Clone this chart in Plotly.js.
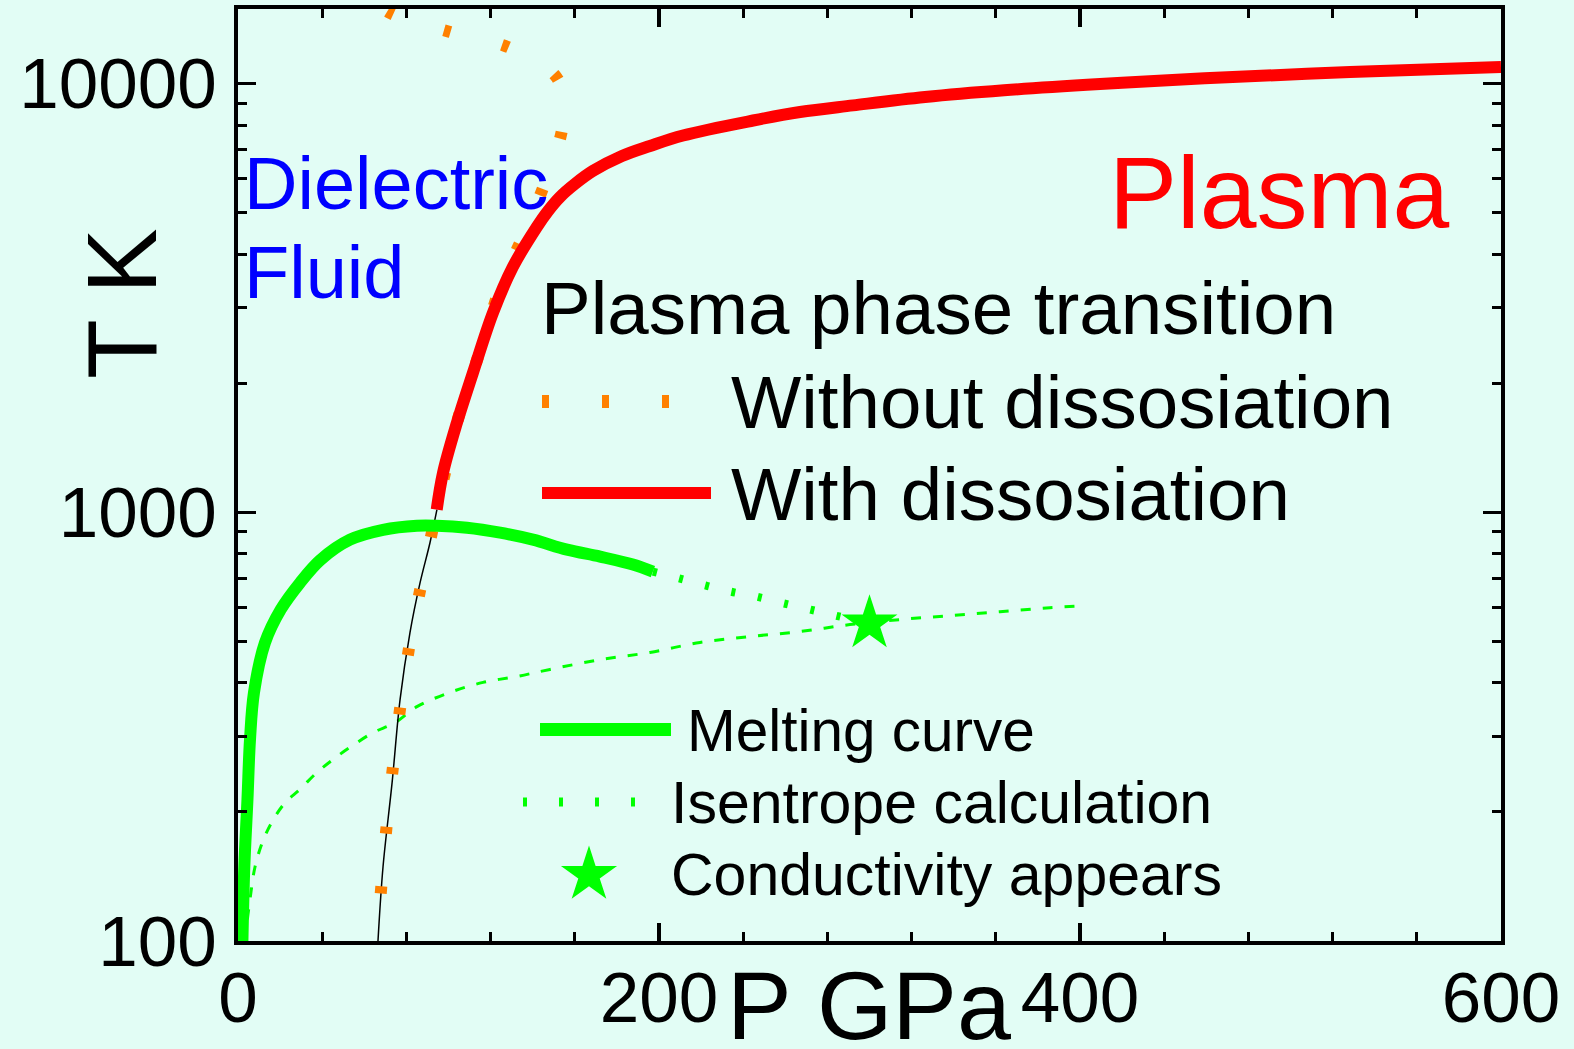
<!DOCTYPE html>
<html>
<head>
<meta charset="utf-8">
<script src="https://cdn.plot.ly/plotly-3.0.1.min.js"></script>
<style>
  html, body { margin: 0; padding: 0; background: #E2FDF5; }
  #chart { width: 1574px; height: 1049px; }
</style>
</head>
<body>
<div id="chart"></div>
<script>
// ---- Data: pressure P (GPa) vs temperature T (K) ----

// Melting curve (solid green)
const meltP = [2.1, 3.0, 4.5, 5.7, 7.6, 12.8, 20.3, 29.5, 39.0, 53.2, 68.9, 85.0, 94.5, 108.8, 124.5, 140.1, 156.3, 172.0, 187.6, 197.1];
const meltT = [100, 149, 214, 295, 380, 496, 593, 685, 773, 863, 910, 930, 930, 920, 896, 863, 818, 788, 755, 727];

// Isentrope calculation (dotted green), continuing the melting curve
const isenP = [197.1, 210, 222, 234, 246, 258, 270, 282, 300];
const isenT = [727, 700, 675, 653, 636, 615, 596, 577, 550];

// Point where conductivity appears
const condP = [300];
const condT = [550];

// Thin dashed green curve
const dashP = [3.8, 4.1, 5.7, 8.1, 12.0, 16.8, 22.3, 29.5, 37.4, 45.1, 53.2, 64.1, 74.6, 85.0, 100.7, 116.4, 132.5, 148.2, 172.0, 195.7, 219.5, 243.2, 267.0, 290.7, 314.5, 338.2, 362.0, 385.7, 401.0];
const dashT = [100, 108, 125, 149, 172, 192, 210, 226, 247, 265, 283, 306, 323, 352, 380, 401, 414, 430, 453, 471, 497, 513, 527, 547, 562, 574, 586, 599, 605];

// Thin black curve below the transition
const blackP = [66.5, 68.9, 73.2, 77.0, 81.7, 86.5, 91.2, 94.5];
const blackT = [100, 149, 234, 366, 524, 685, 849, 1014];

// Plasma phase transition without dissociation (orange dotted)
const noDissP = [67.8, 70.3, 73.3, 78.2, 82.5, 87.7, 91.2, 94.5, 104, 111.6, 120.5, 125.4, 136.3, 145.8, 153.9, 154.2, 151.5, 129.2, 100.7, 72.2, 62];
const noDissT = [129, 179, 247, 385, 523, 703, 855, 1014, 1618, 2113, 2917, 3428, 4508, 5866, 7793, 8913, 10310, 12106, 13195, 14611, 16000];

// Plasma phase transition with dissociation (red)
const dissP = [94.4, 97.4, 104.0, 111.6, 121.1, 130.6, 142.0, 147.3, 153.0, 160.1, 168.6, 182.4, 195.7, 211.4, 244.7, 267.0, 292.2, 326.4, 363.9, 409.5, 459.2, 528.3, 600];
const dissT = [1014, 1236, 1617, 2114, 2917, 3736, 4630, 5044, 5438, 5832, 6252, 6776, 7151, 7565, 8199, 8582, 8892, 9301, 9643, 9972, 10283, 10636, 10926];

// Axis ticks
const xTicks = [0, 200, 400, 600];
const yTicks = [100, 1000, 10000];
const yTickText = ['100', '1000', '10000'];
const yMinor = [200, 300, 400, 500, 600, 700, 800, 900, 2000, 3000, 4000, 5000, 6000, 7000, 8000, 9000];

// ---- Styling ----
const FONT = 'Liberation Sans, Arial, sans-serif';
const BG = '#E2FDF5';
const GREEN = '#00FF00', RED = '#FF0000', ORANGE = '#FF8000', BLUE = '#0000FF';

const W = 1574, H = 1049;
const L = 238, R = 1501, T = 9, B = 941;
const px = x => (x - L) / (R - L);
const py = y => (B - y) / (B - T);

const traces = [
  { x: dashP, y: dashT, mode: 'lines', name: 'dashed',
    line: { color: GREEN, width: 3, dash: '10px,12px', shape: 'spline' } },
  { x: blackP, y: blackT, mode: 'lines', name: 'black',
    line: { color: '#000000', width: 1.5, shape: 'spline' } },
  { x: noDissP, y: noDissT, mode: 'lines', name: 'Without dissosiation',
    line: { color: ORANGE, width: 12, dash: '7px,53px', shape: 'spline' } },
  { x: meltP, y: meltT, mode: 'lines', name: 'Melting curve',
    line: { color: GREEN, width: 12, shape: 'spline' } },
  { x: isenP, y: isenT, mode: 'lines', name: 'Isentrope calculation',
    line: { color: GREEN, width: 8, dash: '4px,23px', shape: 'spline' } },
  { x: dissP, y: dissT, mode: 'lines', name: 'With dissosiation',
    line: { color: RED, width: 12, shape: 'spline' } },
  { x: condP, y: condT, mode: 'markers', name: 'Conductivity appears',
    marker: { symbol: 'star', size: 42, color: GREEN, line: { width: 0 } } }
];

function label(text, x, y, size, color, extra) {
  return Object.assign({
    text: text, xref: 'paper', yref: 'paper', x: px(x), y: py(y),
    xanchor: 'left', yanchor: 'middle', showarrow: false, borderpad: 0,
    font: { family: FONT, size: size, color: color }
  }, extra || {});
}

// Five-pointed star for the legend, in pixels around its anchor
function starPath(ro) {
  const ri = ro * 0.382;
  let d = '';
  for (let k = 0; k < 10; k++) {
    const a = Math.PI / 2 + k * Math.PI / 5;
    const r = k % 2 === 0 ? ro : ri;
    d += (k === 0 ? 'M' : 'L') + (r * Math.cos(a)).toFixed(2) + ',' + (r * Math.sin(a)).toFixed(2);
  }
  return d + 'Z';
}

const annotations = [
  label('Dielectric', 243, 184, 74, BLUE),
  label('Fluid', 243, 273, 74, BLUE),
  label('Plasma', 1108, 193, 102, RED),
  label('Plasma phase transition', 540, 309, 74.5, '#000'),
  label('Without dissosiation', 730, 402, 74.5, '#000'),
  label('With dissosiation', 730, 494, 74.5, '#000'),
  label('Melting curve', 686, 730, 58.5, '#000'),
  label('Isentrope calculation', 670, 803, 59, '#000'),
  label('Conductivity appears', 670, 875, 59, '#000'),
  label('P GPa', 869, 1005, 97, '#000', { xanchor: 'center' }),
  label('T K', 121.5, 303.6, 98, '#000', { xanchor: 'center', textangle: -90 })
];

const shapes = [
  { type: 'line', xref: 'paper', yref: 'paper', x0: px(542), x1: px(672), y0: py(401.5), y1: py(401.5),
    line: { color: ORANGE, width: 13, dash: '7px,53px' } },
  { type: 'line', xref: 'paper', yref: 'paper', x0: px(542), x1: px(711), y0: py(493), y1: py(493),
    line: { color: RED, width: 12 } },
  { type: 'line', xref: 'paper', yref: 'paper', x0: px(540), x1: px(671), y0: py(729.5), y1: py(729.5),
    line: { color: GREEN, width: 13 } },
  { type: 'line', xref: 'paper', yref: 'paper', x0: px(523), x1: px(640), y0: py(802), y1: py(802),
    line: { color: GREEN, width: 9, dash: '4px,32px' } },
  { type: 'path', xref: 'paper', yref: 'paper', xsizemode: 'pixel', ysizemode: 'pixel',
    xanchor: px(589), yanchor: py(875), path: starPath(29.5),
    fillcolor: GREEN, line: { width: 0 } }
];

const axisCommon = {
  showline: true, linecolor: '#000', linewidth: 4, mirror: 'allticks',
  ticks: 'inside', ticklen: 18, tickwidth: 3.5, tickcolor: '#000',
  showgrid: false, zeroline: false, automargin: false,
  tickfont: { family: FONT, size: 71, color: '#000' }
};

const layout = {
  width: W, height: H,
  margin: { l: L, r: W - R, t: T, b: H - B, pad: 0 },
  paper_bgcolor: BG, plot_bgcolor: BG,
  showlegend: false,
  font: { family: FONT, color: '#000' },
  xaxis: Object.assign({}, axisCommon, {
    range: [0, 600], tickmode: 'array', tickvals: xTicks,
    ticklabelstandoff: -8,
    minor: { dtick: 40, tick0: 0, ticks: 'inside', ticklen: 9, tickwidth: 3, tickcolor: '#000', showgrid: false }
  }),
  yaxis: Object.assign({}, axisCommon, {
    type: 'log', range: [2, 4.1738], tickmode: 'array', tickvals: yTicks, ticktext: yTickText,
    ticklabelstandoff: 3,
    minor: { tickmode: 'array', tickvals: yMinor, ticks: 'inside', ticklen: 9, tickwidth: 3, tickcolor: '#000', showgrid: false }
  }),
  annotations: annotations,
  shapes: shapes
};

Plotly.newPlot('chart', traces, layout, { displayModeBar: false, staticPlot: true });
</script>
</body>
</html>
